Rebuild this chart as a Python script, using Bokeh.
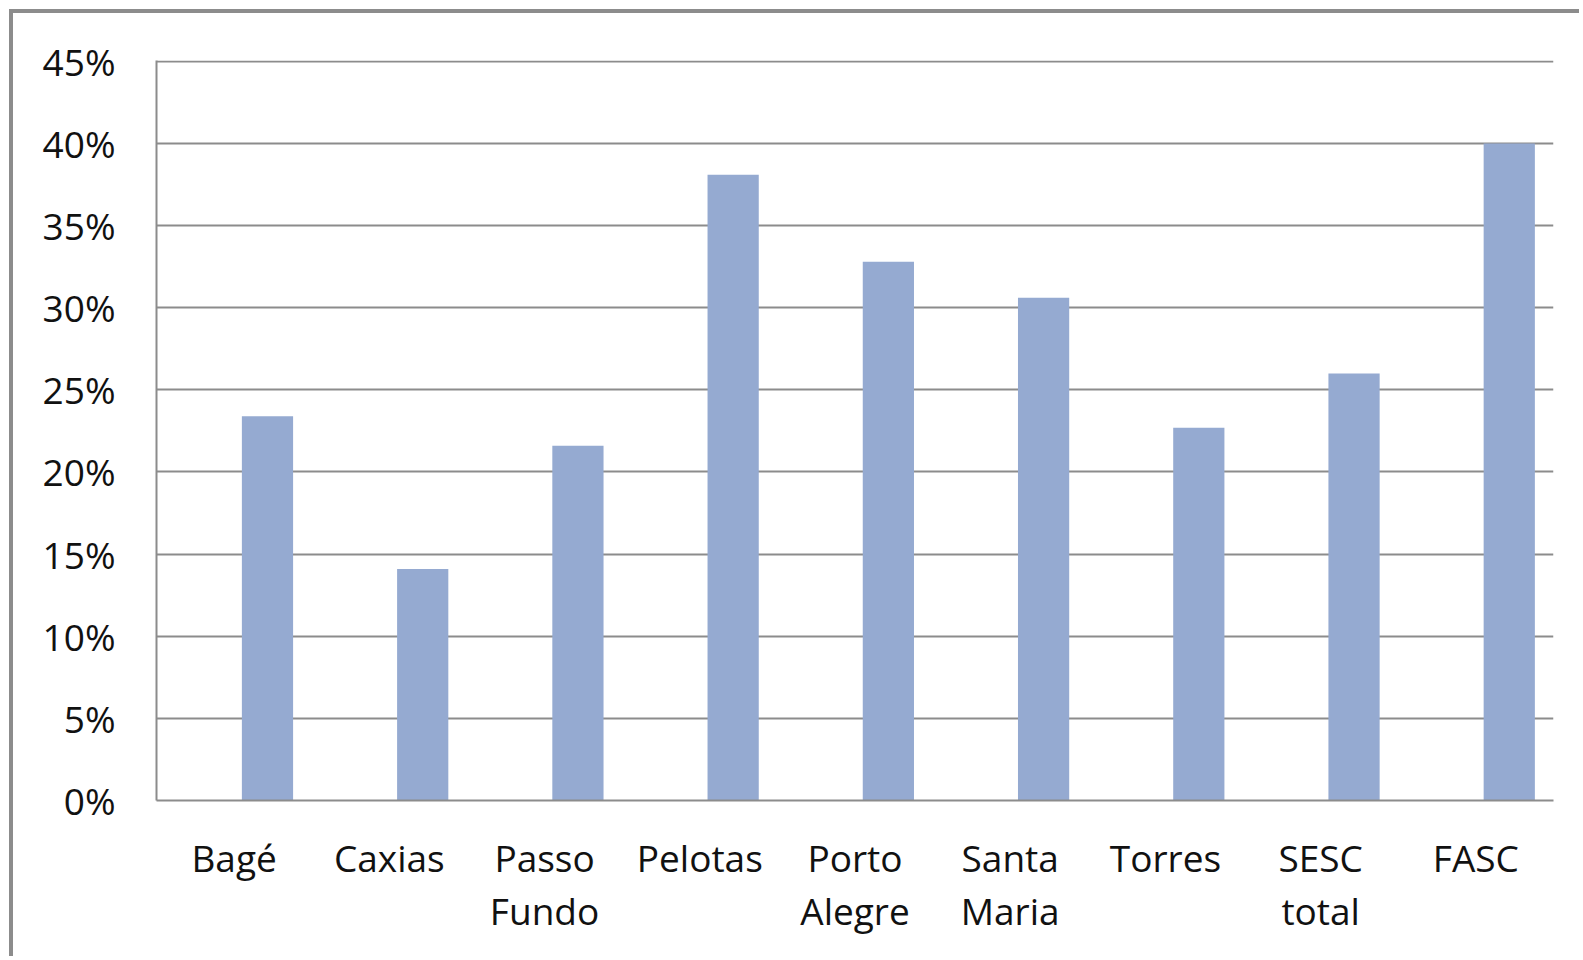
from bokeh.plotting import figure
from bokeh.models import (FactorRange, Range1d, FixedTicker, PrintfTickFormatter,
                          ColumnDataSource)
from bokeh.transform import dodge
from bokeh.embed import file_html
from bokeh.resources import INLINE

categories = ["Bagé", "Caxias", "Passo\nFundo", "Pelotas", "Porto\nAlegre",
              "Santa\nMaria", "Torres", "SESC\ntotal", "FASC"]
values = [23.4, 14.1, 21.6, 38.1, 32.8, 30.6, 22.7, 26.0, 40.0]
y_ticks = [0, 5, 10, 15, 20, 25, 30, 35, 40, 45]

FONT = "Open Sans"
GRID = "#8c8c8c"
TEXT = "#111111"

source = ColumnDataSource(dict(cat=categories, val=values))

p = figure(width=1570, height=947, output_backend="svg", toolbar_location=None,
           x_range=FactorRange(*categories), y_range=Range1d(0, 45.05),
           min_border_left=143, min_border_right=30, min_border_top=47,
           min_border_bottom=160)
p.styles = {"border-left": "4px solid #8c8c8c", "border-top": "4px solid #8c8c8c",
            "margin-left": "9px", "margin-top": "9px"}

p.vbar(x=dodge("cat", 0.215, range=p.x_range), top="val", width=0.33, bottom=0,
       source=source, fill_color="#95aad1", line_color=None)

p.outline_line_color = None
p.background_fill_color = "white"
p.border_fill_color = "white"

p.xgrid.grid_line_color = None
p.ygrid.grid_line_color = GRID
p.ygrid.grid_line_width = 2
p.yaxis.ticker = FixedTicker(ticks=y_ticks)
p.yaxis.formatter = PrintfTickFormatter(format="%d%%")

for ax in (p.xaxis[0], p.yaxis[0]):
    ax.axis_line_color = GRID
    ax.axis_line_width = 2
    ax.major_tick_line_color = None
    ax.minor_tick_line_color = None
    ax.major_tick_in = 0
    ax.major_tick_out = 0
    ax.major_label_text_font = FONT
    ax.major_label_text_font_size = "37px"
    ax.major_label_text_color = TEXT

p.yaxis.major_label_standoff = 41
p.xaxis.major_label_standoff = 31
p.xaxis.major_label_text_line_height = 1.05

open("out.html", "w").write(file_html(p, INLINE))
